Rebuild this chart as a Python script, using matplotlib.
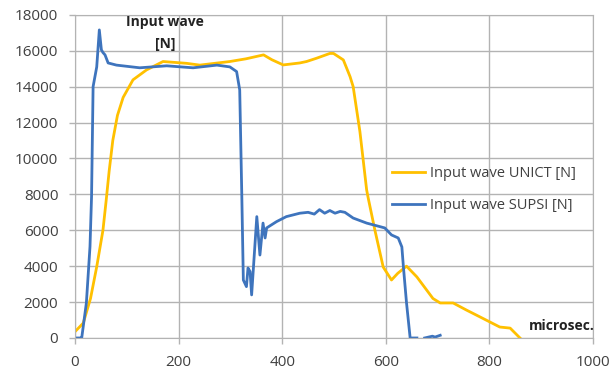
import matplotlib
matplotlib.use("Agg")
import matplotlib.pyplot as plt
import numpy as np

# Input wave UNICT [N] (yellow)
unict_t = [0, 16, 30, 42, 54, 60, 66, 73, 82, 93, 112, 138, 170, 215, 241, 299, 330, 364,
           380, 402, 434, 447, 466, 492, 499, 518, 531, 537, 550, 563, 566, 579, 595, 611,
           623, 640, 660, 691, 705, 730, 756, 782, 820, 840, 859]
unict_f = [350, 830, 2200, 3970, 6000, 7600, 9300, 11000, 12400, 13400, 14380, 14930, 15400,
           15300, 15200, 15400, 15550, 15770, 15500, 15210, 15320, 15400, 15580, 15850, 15850,
           15490, 14560, 14000, 11500, 8250, 7800, 6000, 3950, 3230, 3600, 4000, 3400, 2200,
           1950, 1950, 1550, 1170, 610, 550, 0]

# Input wave SUPSI [N] (blue); NaN splits the short tail segment
supsi_t = [0, 10, 13, 22, 29, 32, 35, 42, 47, 51, 54, 58, 64, 80, 125, 177, 228, 274, 299,
           312, 318, 322, 325, 331, 334, 338, 341, 351, 357, 363, 367, 370, 389, 408, 434,
           450, 462, 472, 482, 492, 502, 512, 521, 537, 563, 598, 611, 624, 631, 634, 640,
           647, 660,
           np.nan, 675, 690, 695, 705]
supsi_f = [0, 0, 0, 1950, 5090, 7870, 14000, 15100, 17160, 16050, 15900, 15770, 15320, 15200,
           15050, 15160, 15050, 15200, 15100, 14840, 13820, 8000, 3230, 2860, 3900, 3700, 2400,
           6760, 4620, 6400, 5570, 6130, 6480, 6760, 6950, 7000, 6900, 7150, 6950, 7100, 6950,
           7050, 7000, 6680, 6400, 6130, 5740, 5570, 5070, 3950, 1950, 0, 0,
           np.nan, 0, 100, 50, 150]

x_ticks = [0, 200, 400, 600, 800, 1000]
y_ticks = list(range(0, 18001, 2000))

YELLOW = "#FFC000"
BLUE = "#3E74BD"
TXT = "#404040"
GRID = "#b3b3b3"

plt.rcParams["font.family"] = ["Open Sans", "DejaVu Sans"]

fig = plt.figure(figsize=(6.12, 3.71), dpi=100)
ax = fig.add_axes([0.1225, 0.089, 0.8465, 0.871])

ax.plot(unict_t, unict_f, color=YELLOW, lw=2.0, label="Input wave UNICT [N]")
ax.plot(supsi_t, supsi_f, color=BLUE, lw=2.0, label="Input wave SUPSI [N]")

ax.set_xlim(0, 1000)
ax.set_ylim(0, 18000)
ax.set_xticks(x_ticks)
ax.set_yticks(y_ticks)
ax.grid(True, color=GRID, lw=1.0)
ax.set_axisbelow(True)
for s in ax.spines.values():
    s.set_color(GRID)
ax.tick_params(length=4, width=1.0, color=GRID, labelsize=11, labelcolor=TXT, pad=8)

ax.text(0.174, 1.0, "Input wave\n[N]", transform=ax.transAxes, ha="center", va="top",
        fontsize=10, fontweight="bold", color="#222222", linespacing=1.75)
ax.text(0.94, 0.015, "microsec.", transform=ax.transAxes, ha="center", va="bottom",
        fontsize=10, fontweight="bold", color="#222222")

leg = ax.legend(loc="upper left", bbox_to_anchor=(0.6, 0.55), frameon=False,
                fontsize=10.5, handlelength=2.3, handletextpad=0.3, labelspacing=1.15,
                borderaxespad=0)
for t in leg.get_texts():
    t.set_color(TXT)

fig.savefig("out.png", dpi=100)
